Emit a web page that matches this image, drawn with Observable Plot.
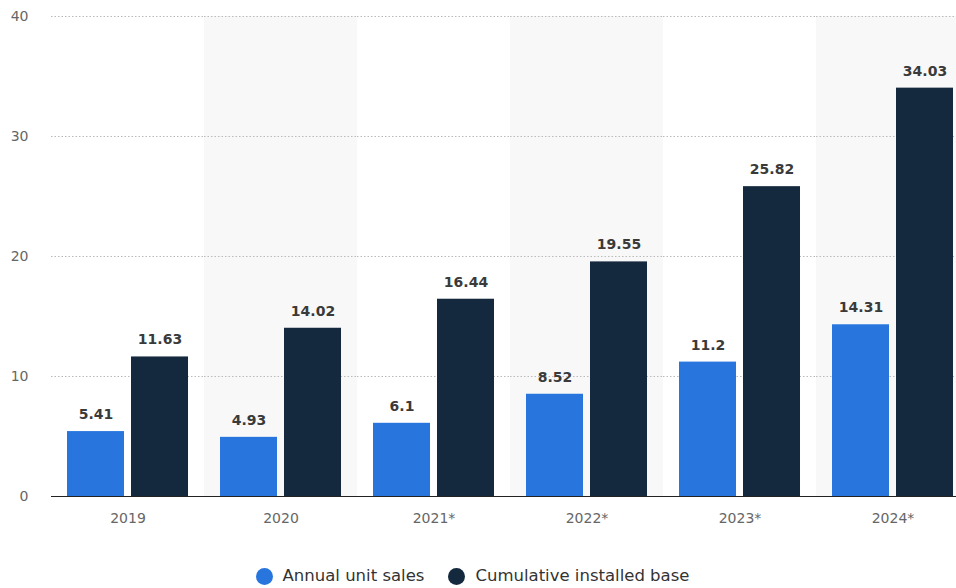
<!DOCTYPE html>
<html>
<head>
<meta charset="utf-8">
<script src="https://cdn.jsdelivr.net/npm/d3@7"></script>
<script src="https://cdn.jsdelivr.net/npm/@observablehq/plot@0.6"></script>
<style>
  body { margin: 0; background: #fff; font-family: "DejaVu Sans", sans-serif; overflow: hidden; }
  #legend { display: flex; justify-content: center; align-items: center; gap: 24px; margin-top: 21px; margin-left: -11px; font-size: 16.5px; color: #333; line-height: 20px; }
  #legend .item { display: flex; align-items: center; gap: 10px; }
  #legend .dot { width: 17px; height: 17px; border-radius: 50%; display: inline-block; }
</style>
</head>
<body>
<div id="chart"></div>
<script>
const years = ["2019", "2020", "2021*", "2022*", "2023*", "2024*"];
const seriesNames = ["Annual unit sales", "Cumulative installed base"];
const annualSales = [5.41, 4.93, 6.1, 8.52, 11.2, 14.31];
const installedBase = [11.63, 14.02, 16.44, 19.55, 25.82, 34.03];
const shadedYears = ["2020", "2022*", "2024*"];
const yTicks = [0, 10, 20, 30, 40];
const colors = ["#2876dd", "#14283e"];

const table = [];
years.forEach((y, i) => {
  table.push({year: y, series: seriesNames[0], value: annualSales[i]});
  table.push({year: y, series: seriesNames[1], value: installedBase[i]});
});
const shaded = shadedYears.map(y => ({year: y, top: 40}));

const plot = Plot.plot({
  width: 956,
  height: 545,
  marginTop: 16,
  marginBottom: 49,
  marginLeft: 51,
  marginRight: -13,
  style: {fontFamily: "DejaVu Sans, sans-serif", fontSize: "14px", color: "#666", overflow: "hidden"},
  fx: {domain: years, padding: 0, axis: "bottom", tickSize: 0, tickPadding: 17, label: null},
  x: {domain: seriesNames, paddingInner: 0.11, paddingOuter: 0.25, axis: null},
  y: {domain: [0, 40], ticks: yTicks, tickSize: 0, tickPadding: 23, label: null},
  color: {domain: seriesNames, range: colors},
  marks: [
    Plot.barY(shaded, {fx: "year", y1: 0, y2: "top", fill: "#f8f8f8"}),
    Plot.ruleY(yTicks.filter(t => t > 0), {stroke: "#bbb", strokeDasharray: "1.5,2", strokeWidth: 1}),
    Plot.barY(table, {fx: "year", x: "series", y: "value", fill: "series"}),
    Plot.ruleY([0], {stroke: "#222", strokeWidth: 1.2}),
    Plot.text(table, {fx: "year", x: "series", y: "value", text: d => String(d.value), dy: -17, fill: "#3a3a3a", fontSize: 14, fontWeight: "600"})
  ]
});
document.getElementById("chart").appendChild(plot);

const legend = document.createElement("div");
legend.id = "legend";
seriesNames.forEach((s, i) => {
  const item = document.createElement("div");
  item.className = "item";
  const dot = document.createElement("span");
  dot.className = "dot";
  dot.style.background = colors[i];
  const label = document.createElement("span");
  label.textContent = s;
  item.appendChild(dot);
  item.appendChild(label);
  legend.appendChild(item);
});
document.getElementById("chart").appendChild(legend);
</script>
</body>
</html>
